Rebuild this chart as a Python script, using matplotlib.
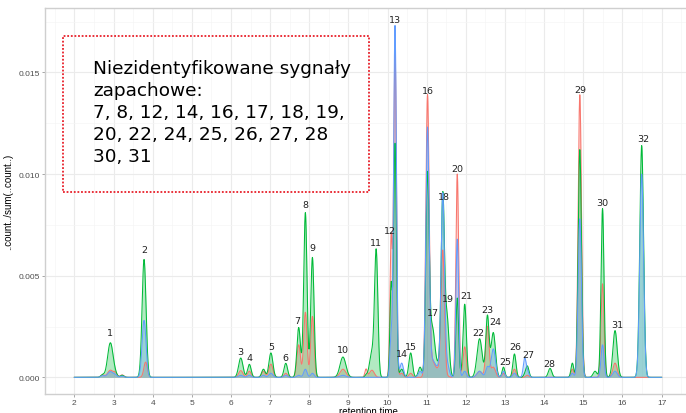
import numpy as np
import matplotlib
matplotlib.use('Agg')
import matplotlib.pyplot as plt
from matplotlib.patches import Rectangle
from matplotlib.ticker import FormatStrFormatter

# peak table (retention time, width, height per sample)
peak_rt = [2.72, 2.92, 3.05, 3.22, 3.78, 3.82, 6.25, 6.47, 6.83, 7.02, 7.40, 7.73,
           7.90, 8.08, 8.86, 9.45, 9.60, 9.71, 10.09, 10.19, 10.36, 10.59, 10.83,
           11.02, 11.14, 11.30, 11.41, 11.52, 11.78, 11.97, 12.35, 12.55, 12.70, 12.96,
           13.24, 13.50, 13.57, 14.15, 14.72, 14.91, 15.30, 15.49, 15.81, 16.49]
peak_sd = [0.045, 0.07, 0.045, 0.045, 0.05, 0.045, 0.055, 0.045, 0.045, 0.05, 0.045, 0.045,
           0.042, 0.042, 0.075, 0.03, 0.06, 0.042, 0.03, 0.035, 0.045, 0.045, 0.045,
           0.042, 0.06, 0.12, 0.042, 0.05, 0.035, 0.042, 0.065, 0.042, 0.055, 0.035,
           0.04, 0.035, 0.04, 0.045, 0.035, 0.042, 0.05, 0.038, 0.055, 0.048]
h_red = [0.00012, 0.00035, 0.0002, 0.00012, 0.0, 0.00075, 0.00033, 0.0003, 0.0003, 0.00065, 0.0002, 0.0016,
         0.0032, 0.0030, 0.0004, 0.0004, 0.00035, 0.0, 0.0068, 0.0162, 0.0002, 0.0002, 0.0,
         0.0138, 0.0006, 0.0004, 0.0060, 0.0, 0.0100, 0.0015, 0.0003, 0.0025, 0.0005, 0.0002,
         0.0004, 0.0, 0.0001, 0.0, 0.0004, 0.0139, 0.0, 0.0046, 0.0007, 0.0]
h_green = [0.00012, 0.0017, 0.0001, 0.0001, 0.0058, 0.0, 0.00095, 0.00064, 0.0004, 0.0012, 0.00069, 0.00245,
           0.0081, 0.0059, 0.0010, 0.0001, 0.0012, 0.0061, 0.0045, 0.0115, 0.0004, 0.0012, 0.0005,
           0.0098, 0.0022, 0.0006, 0.0085, 0.0028, 0.0039, 0.0036, 0.0019, 0.0030, 0.0022, 0.0005,
           0.00115, 0.0001, 0.00055, 0.00044, 0.0007, 0.0112, 0.0003, 0.0083, 0.0023, 0.0114]
h_blue = [0.00008, 0.00028, 0.0001, 0.00006, 0.0028, 0.0, 0.0001, 0.0001, 0.0001, 0.0002, 0.0001, 0.0001,
          0.0004, 0.0002, 0.0001, 0.0, 0.0, 0.0, 0.002, 0.0173, 0.0007, 0.0, 0.0003,
          0.0122, 0.0006, 0.0005, 0.0087, 0.0006, 0.0068, 0.0003, 0.0003, 0.0005, 0.0014, 0.0003,
          0.0002, 0.0009, 0.0003, 0.0, 0.0002, 0.0078, 0.0, 0.0016, 0.0003, 0.0100]

# numbered signals and where their labels sit
lab_text = [str(i) for i in range(1, 33)]
lab_x = [2.92, 3.79, 6.24, 6.47, 7.03, 7.38, 7.70, 7.90, 8.07, 8.86, 9.71, 10.05, 10.19, 10.36,
         10.60, 11.02, 11.17, 11.43, 11.55, 11.78, 12.00, 12.32, 12.56, 12.75, 13.00, 13.26,
         13.60, 14.13, 14.93, 15.48, 15.87, 16.53]
lab_y = [0.00223, 0.00628, 0.00129, 0.00100, 0.00154, 0.00096, 0.00282, 0.00848, 0.00641,
         0.00136, 0.00661, 0.00721, 0.0176, 0.00115, 0.00151, 0.0141, 0.0032, 0.00891, 0.00389,
         0.01025, 0.00402, 0.00221, 0.00336, 0.00274, 0.00077, 0.00153, 0.00113, 0.00066,
         0.01414, 0.00858, 0.00262, 0.01173]

note = ('Niezidentyfikowane sygnały\nzapachowe:\n7, 8, 12, 14, 16, 17, 18, 19,\n'
        '20, 22, 24, 25, 26, 27, 28\n30, 31')

colors = ['#F8766D', '#00BA38', '#619CFF']
heights = [h_red, h_green, h_blue]

t = np.arange(2.0, 17.0001, 0.005)
rt = np.array(peak_rt)
sd = np.array(peak_sd)

def trace(h):
    h = np.array(h)
    return (h[:, None] * np.exp(-0.5 * ((t[None, :] - rt[:, None]) / sd[:, None]) ** 2)).sum(axis=0)

fig = plt.figure(figsize=(6.86, 4.14), dpi=100)
ax = fig.add_axes([45 / 686, 19 / 414, 646 / 686, 386 / 414])

for h, c in zip(heights, colors):
    y = trace(h)
    ax.fill_between(t, 0, y, color=c, alpha=0.3, linewidth=0)
    ax.plot(t, y, color=c, linewidth=0.75)

for s, x, y in zip(lab_text, lab_x, lab_y):
    ax.text(x, y, s, ha='center', va='center', fontsize=6.8, color='#222222',
            family='DejaVu Sans')

# ramka z opisem
ax.add_patch(Rectangle((0.028, 0.523), 0.4735, 0.404, transform=ax.transAxes,
                       fill=False, edgecolor='#e8202a', linewidth=1.3,
                       linestyle=(0, (1, 1)), zorder=5))
ax.text(0.0743, 0.7306, note, transform=ax.transAxes, ha='left', va='center',
        fontsize=13.3, linespacing=1.3, family='DejaVu Sans', color='black', zorder=6)

ax.set_xlim(1.25, 17.75)
ax.set_ylim(-0.00082, 0.01817)
ax.set_xticks(range(2, 18))
ax.set_xticks(np.arange(1.5, 18, 1), minor=True)
ax.set_yticks([0.0, 0.005, 0.010, 0.015])
ax.set_yticks([0.0025, 0.0075, 0.0125, 0.0175], minor=True)
ax.yaxis.set_major_formatter(FormatStrFormatter('%.3f'))

ax.grid(which='major', color='#ebebeb', linewidth=0.8)
ax.grid(which='minor', color='#f5f5f5', linewidth=0.5)
ax.set_axisbelow(True)
for sp in ax.spines.values():
    sp.set_color('#cfcfcf')
    sp.set_linewidth(1.0)

ax.tick_params(which='major', length=2.5, width=0.6, color='#999999', pad=1.2,
               labelsize=6, labelcolor='#4d4d4d')
ax.tick_params(which='minor', length=0)
for lb in ax.get_xticklabels() + ax.get_yticklabels():
    lb.set_family('Liberation Sans')

ax.set_ylabel('..count../sum(..count..)', fontsize=7, family='Liberation Sans')
ax.yaxis.set_label_coords(-0.050, 0.5)
ax.set_xlabel('retention time', fontsize=7, family='Liberation Sans')
ax.xaxis.set_label_coords(0.5, -0.031)

plt.savefig('out.png', dpi=100)
